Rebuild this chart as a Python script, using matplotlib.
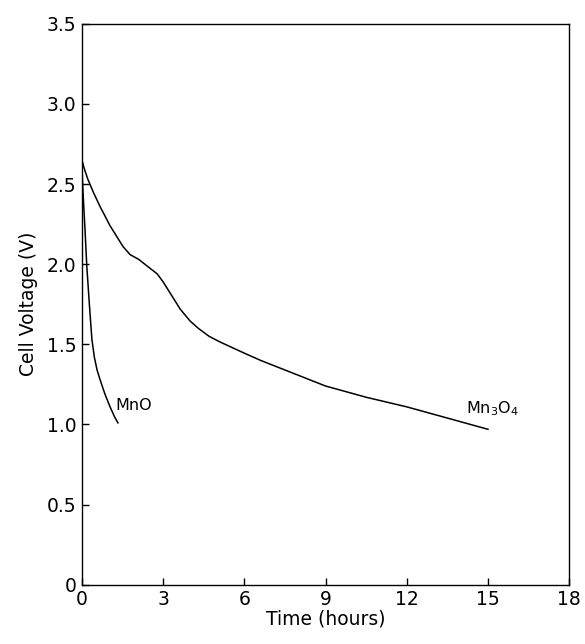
import matplotlib.pyplot as plt

plt.rcParams['font.family'] = ['DejaVu Sans']

# Mn3O4 discharge curve (hours, V)
t_mn3o4 = [0, 0.1, 0.22, 0.42, 0.67, 1.04, 1.52, 1.78, 2.1, 2.4, 2.78, 3.0, 3.26, 3.63, 4.0, 4.3, 4.7, 5.1, 6.0, 6.6, 7.5, 9.0, 10.5, 12.0, 13.5, 15.0]
v_mn3o4 = [2.65, 2.59, 2.53, 2.45, 2.36, 2.24, 2.11, 2.06, 2.03, 1.99, 1.94, 1.89, 1.82, 1.72, 1.645, 1.60, 1.55, 1.515, 1.445, 1.40, 1.34, 1.24, 1.17, 1.11, 1.04, 0.97]

# MnO discharge curve
t_mno = [0, 0.05, 0.12, 0.18, 0.28, 0.37, 0.46, 0.56, 0.67, 0.85, 1.04, 1.2, 1.33]
v_mno = [2.6, 2.42, 2.2, 1.99, 1.74, 1.53, 1.42, 1.34, 1.28, 1.19, 1.11, 1.05, 1.01]

fig = plt.figure(figsize=(5.85, 6.44), dpi=100)
ax = fig.add_axes([0.140, 0.092, 0.833, 0.871])

ax.plot(t_mn3o4, v_mn3o4, color='black', lw=1.1)
ax.plot(t_mno, v_mno, color='black', lw=1.1)

ax.text(1.25, 1.12, 'MnO', fontsize=11.5, va='center', ha='left')
ax.text(14.2, 1.10, 'Mn$_3$O$_4$', fontsize=11.5, va='center', ha='left')

ax.set_xlim(0, 18)
ax.set_ylim(0, 3.5)
ax.set_xticks([0, 3, 6, 9, 12, 15, 18])
ax.set_yticks([0, 0.5, 1.0, 1.5, 2.0, 2.5, 3.0, 3.5])
ax.set_yticklabels(['0', '0.5', '1.0', '1.5', '2.0', '2.5', '3.0', '3.5'])
ax.tick_params(direction='in', length=5, width=1, labelsize=13.5, pad=4)
for s in ax.spines.values():
    s.set_linewidth(1.0)

ax.set_xlabel('Time (hours)', fontsize=13.5, labelpad=0)
ax.set_ylabel('Cell Voltage (V)', fontsize=13.5, labelpad=6)

fig.savefig('out.png', dpi=100)
